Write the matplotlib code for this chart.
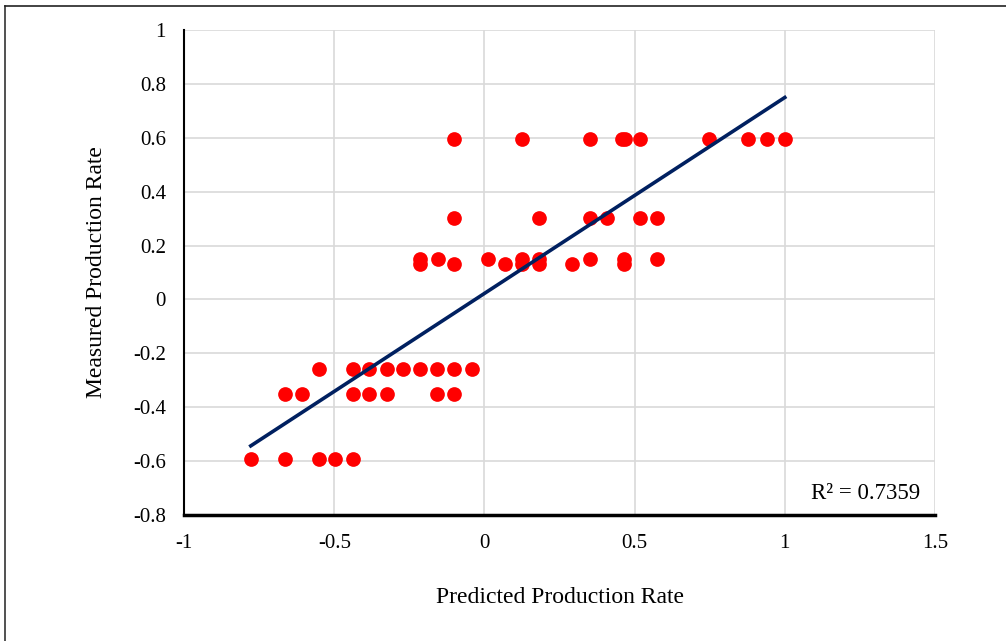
import numpy as np
import matplotlib
matplotlib.use("Agg")
import matplotlib.pyplot as plt
from matplotlib.lines import Line2D

plt.rcParams['font.family'] = ['Liberation Serif', 'DejaVu Serif']

# predicted (x) / measured (y)
x_060 = [-0.10, 0.126, 0.351, 0.458, 0.468, 0.519, 0.747, 0.876, 0.942, 1.0]
x_030 = [-0.10, 0.181, 0.351, 0.408, 0.519, 0.576]
x_015 = [-0.214, -0.156, 0.012, 0.126, 0.181, 0.351, 0.463, 0.576]
x_013 = [-0.214, -0.10, 0.07, 0.126, 0.181, 0.293, 0.463]
x_m026 = [-0.551, -0.439, -0.383, -0.326, -0.27, -0.214, -0.158, -0.102, -0.043]
x_m035 = [-0.664, -0.609, -0.439, -0.383, -0.326, -0.158, -0.102]
x_m059 = [-0.778, -0.664, -0.551, -0.496, -0.439]
levels = [0.597, 0.302, 0.151, 0.133, -0.259, -0.351, -0.593]
r2_label = "R² = 0.7359"

xs = [x_060, x_030, x_015, x_013, x_m026, x_m035, x_m059]
pred = np.concatenate([np.array(a) for a in xs])
meas = np.concatenate([np.full(len(a), lv) for a, lv in zip(xs, levels)])

fig = plt.figure(figsize=(10.06, 6.41), dpi=100)
ax = fig.add_axes([0.183, 0.1966, 0.7464, 0.7566])

ax.scatter(pred, meas, s=112, color='#FF0000', zorder=3, linewidths=0)

k, b = np.polyfit(pred, meas, 1)
xl = np.array([pred.min(), pred.max()])
ax.plot(xl, k * xl + b, color='#002060', lw=2.6, zorder=4)

ax.set_xlim(-1, 1.5)
ax.set_ylim(-0.8, 1)
ax.set_xticks([-1, -0.5, 0, 0.5, 1, 1.5])
ax.set_xticklabels(['-1', '-0.5', '0', '0.5', '1', '1.5'])
ax.set_yticks(np.arange(-0.8, 1.01, 0.2))
ax.set_yticklabels(['-0.8', '-0.6', '-0.4', '-0.2', '0', '0.2', '0.4', '0.6', '0.8', '1'])
ax.grid(True, color='#D9D9D9', lw=1.2, zorder=0)
ax.set_axisbelow(True)
ax.tick_params(length=0, labelsize=15, colors='black')
ax.tick_params(axis='x', pad=14)
ax.tick_params(axis='y', pad=13)
for s in ['top', 'right']:
    ax.spines[s].set_visible(False)
ax.spines['left'].set_linewidth(1.5)
ax.spines['bottom'].set_linewidth(2.5)
ax.spines['left'].set_zorder(5)
ax.spines['bottom'].set_zorder(5)

ax.set_xlabel('Predicted Production Rate', fontsize=17, labelpad=24)
ax.set_ylabel('Measured Production Rate', fontsize=17, labelpad=19)

ax.text(0.98, 0.045, r2_label, transform=ax.transAxes, ha='right', va='center',
        fontsize=16.5)

# outer frame (left and top edges only visible)
fig.add_artist(Line2D([5 / 1006, 5 / 1006], [0, 1 - 6 / 641], color='#333333', lw=1.2,
                      transform=fig.transFigure))
fig.add_artist(Line2D([5 / 1006, 1], [1 - 6 / 641, 1 - 6 / 641], color='#222222', lw=1.2,
                      transform=fig.transFigure))

fig.savefig('out.png', dpi=100)
